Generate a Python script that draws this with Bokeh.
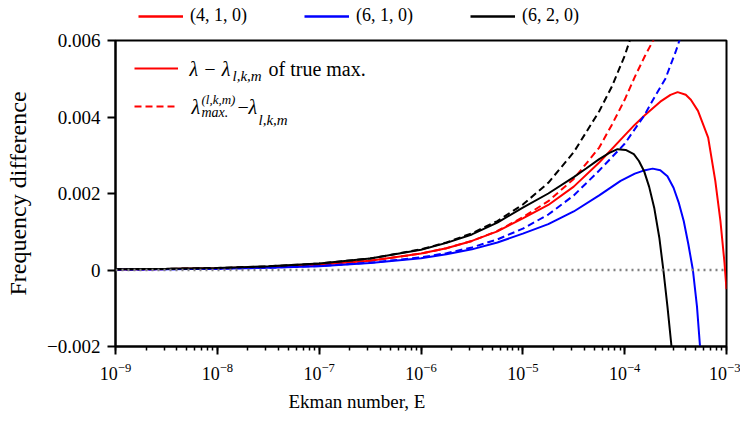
from bokeh.plotting import figure
from bokeh.layouts import column
from bokeh.models import (Legend, LegendItem, Label, Span, FixedTicker, Range1d, Title)
from bokeh.embed import file_html
from bokeh.resources import INLINE
from bokeh.core.properties import value

# ---- data: log10(Ekman number) and frequency difference ----
lg_410 = [-9, -8.5, -8, -7.5, -7, -6.5, -6, -5.75, -5.5, -5.25, -5, -4.75, -4.5, -4.25, -4.0,
          -3.9, -3.8, -3.65, -3.55, -3.48, -3.4, -3.35, -3.28, -3.18, -3.11, -3.06, -3.02, -3.0]
true_410 = [0.000014, 0.000024, 0.000043, 0.000077, 0.000137, 0.00024, 0.00043, 0.00057,
            0.00076, 0.00101, 0.00135, 0.00170, 0.00218, 0.00281, 0.00352, 0.00380,
            0.00405, 0.00440, 0.00458, 0.00465, 0.00458, 0.00445, 0.00416, 0.00346,
            0.00233, 0.00129, 0.0002, -0.0005]

lg_410d = [-9, -8.5, -8, -7.5, -7, -6.5, -6, -5.75, -5.5, -5.25, -5, -4.75, -4.5, -4.25,
           -4.125, -4.0, -3.9, -3.8, -3.7, -3.65]
asym_410 = [0.0000136, 0.000024, 0.000043, 0.000076, 0.000136, 0.00024, 0.00043, 0.00057,
            0.00076, 0.00102, 0.00138, 0.0018, 0.00238, 0.0032, 0.0038, 0.00445, 0.00505,
            0.0056, 0.0061, 0.0064]

lg_610 = [-9, -8.5, -8, -7.5, -7, -6.5, -6, -5.75, -5.5, -5.25, -5, -4.75, -4.5, -4.25,
          -4.04, -3.9, -3.8, -3.725, -3.65, -3.58, -3.52, -3.47, -3.42, -3.375, -3.33,
          -3.29, -3.26, -3.24]
true_610 = [0.000010, 0.000018, 0.000032, 0.000057, 0.000100, 0.00018, 0.00031, 0.00041,
            0.00054, 0.00072, 0.00095, 0.00120, 0.00153, 0.00195, 0.00233, 0.00252,
            0.00261, 0.00265, 0.00261, 0.00245, 0.00215, 0.00177, 0.00128, 0.00068, 0.0,
            -0.00095, -0.0020, -0.0027]

lg_610d = [-9, -8.5, -8, -7.5, -7, -6.5, -6, -5.75, -5.5, -5.25, -5, -4.75, -4.5, -4.25,
           -4.0, -3.81, -3.7, -3.6, -3.5, -3.45, -3.4]
asym_610 = [0.0000105, 0.000019, 0.000033, 0.000059, 0.000105, 0.00019, 0.00033, 0.00044,
            0.00059, 0.00080, 0.00108, 0.00145, 0.00195, 0.0026, 0.0033, 0.00403, 0.00455,
            0.0050, 0.0057, 0.0061, 0.0065]

lg_620 = [-9, -8.5, -8, -7.5, -7, -6.5, -6, -5.75, -5.5, -5.25, -5, -4.75, -4.5, -4.375,
          -4.25, -4.15, -4.07, -3.99, -3.91, -3.86, -3.81, -3.76, -3.71, -3.66, -3.62,
          -3.58, -3.54, -3.52]
true_620 = [0.000017, 0.00003, 0.000054, 0.000095, 0.00017, 0.00030, 0.00053, 0.00071,
            0.00093, 0.00124, 0.00163, 0.00200, 0.00243, 0.00266, 0.00290, 0.00306,
            0.00316, 0.00314, 0.00303, 0.00285, 0.00259, 0.00218, 0.00163, 0.00085, 0.0,
            -0.00095, -0.0020, -0.0026]

lg_620d = [-9, -8.5, -8, -7.5, -7, -6.5, -6, -5.75, -5.5, -5.25, -5, -4.75, -4.5, -4.25,
           -4.125, -4.0, -3.9]
asym_620 = [0.000017, 0.00003, 0.000054, 0.000096, 0.00017, 0.00030, 0.00054, 0.00072,
            0.00096, 0.00128, 0.00171, 0.00228, 0.00308, 0.00415, 0.0048, 0.00560, 0.0064]

mode_labels = ["(4, 1, 0)", "(6, 1, 0)", "(6, 2, 0)"]
mode_colors = ["#ff0000", "#0000ff", "#000000"]
y_ticks = [-0.002, 0.0, 0.002, 0.004, 0.006]
y_tick_labels = ["\u22120.002", "0", "0.002", "0.004", "0.006"]

SERIF = "Liberation Serif"
TOP_H = 26

def E(lg):
    return [10.0 ** v for v in lg]

# ---------- strip above the plot holding the mode legend ----------
pt = figure(width=740, height=TOP_H, x_range=Range1d(0, 1), y_range=Range1d(0, 1),
            x_axis_location=None, y_axis_location=None,
            output_backend="svg", toolbar_location=None, min_border=0)
pt.xgrid.visible = False
pt.ygrid.visible = False
pt.outline_line_color = None
# legend proxies (no visible data)
proxies = [pt.line(x=[float("nan")], y=[float("nan")], line_color=c, line_width=2.5)
           for c in mode_colors]
top_leg = Legend(items=[LegendItem(label=lab_, renderers=[r]) for lab_, r in zip(mode_labels, proxies)],
                 orientation="horizontal", location=(23, 0),
                 glyph_width=45, glyph_height=20, label_standoff=7, spacing=57,
                 padding=0, margin=0, border_line_alpha=0, background_fill_alpha=0,
                 label_text_font=SERIF, label_text_font_size="18px",
                 label_text_color="black")
pt.add_layout(top_leg, "center")

# ---------- main plot ----------
p = figure(width=740, height=420 - TOP_H, x_axis_type="log",
           x_range=Range1d(1e-9, 1e-3), y_range=Range1d(-0.002, 0.006),
           output_backend="svg", toolbar_location=None,
           min_border_left=115, min_border_right=14, min_border_top=40 - TOP_H,
           min_border_bottom=74)

p.xgrid.visible = False
p.ygrid.visible = False
p.outline_line_color = "black"
p.outline_line_width = 2

# zero reference line
p.add_layout(Span(location=0, dimension="width", line_color="#808080",
                  line_dash="2 4", line_width=2.5))

W = 2
r_red = p.line(E(lg_410), true_410, line_color=mode_colors[0], line_width=W)
r_red_d = p.line(E(lg_410d), asym_410, line_color=mode_colors[0], line_width=W, line_dash="7 4")
r_blue = p.line(E(lg_610), true_610, line_color=mode_colors[1], line_width=W)
r_blue_d = p.line(E(lg_610d), asym_610, line_color=mode_colors[1], line_width=W, line_dash="7 4")
r_blk = p.line(E(lg_620), true_620, line_color=mode_colors[2], line_width=W)
r_blk_d = p.line(E(lg_620d), asym_620, line_color=mode_colors[2], line_width=W, line_dash="7 4")

# axes
for ax in (p.xaxis[0], p.yaxis[0]):
    ax.axis_line_width = 2
    ax.major_tick_line_width = 2
    ax.major_tick_in = 0
    ax.major_tick_out = 8
    ax.minor_tick_in = 0
    ax.minor_tick_out = 4
    ax.minor_tick_line_width = 1.5
    ax.major_label_text_font = SERIF
    ax.axis_label_text_font = SERIF
    ax.axis_label_text_font_style = "normal"
    ax.axis_label_text_color = "black"
    ax.major_label_text_color = "black"

p.yaxis.ticker = FixedTicker(ticks=y_ticks)
p.yaxis.major_label_overrides = {t: s for t, s in zip(y_ticks, y_tick_labels)}
p.yaxis.minor_tick_line_color = None
p.yaxis.major_label_text_font_size = "19px"
p.yaxis.major_label_standoff = 7
p.yaxis.axis_label = "Frequency difference"
p.yaxis.axis_label_text_font_size = "24px"
p.yaxis.axis_label_standoff = 13

p.xaxis.major_label_text_font_size = "18px"
p.xaxis.major_label_standoff = 8

# x axis title, placed left of centre like the reference
p.add_layout(Title(text="Ekman number, E", align="left", offset=173,
                   text_font=SERIF, text_font_size="19px", text_font_style="normal",
                   text_color="black", standoff=12), "below")

# inner legend (line styles)
in_leg = Legend(items=[LegendItem(label=value(" "), renderers=[r_red]),
                       LegendItem(label=value("  "), renderers=[r_red_d])],
                orientation="vertical", location=(19, 230),
                glyph_width=44, glyph_height=20, label_height=20, spacing=18,
                label_standoff=4, padding=0, margin=0, border_line_alpha=0,
                background_fill_alpha=0, label_text_font_size="10px")
p.add_layout(in_leg, "center")

def lab(x, y, text, size, style="normal"):
    p.add_layout(Label(x=x, y=y, x_units="screen", y_units="screen", text=text,
                       text_font=SERIF, text_font_size=size, text_font_style=style,
                       text_baseline="middle", text_align="left", text_color="black"))

# row 1: λ − λ_{l,k,m} of true max.
lab(74, 278, "\u03bb \u2212 \u03bb", "20px", "italic")
lab(117, 271, "l,k,m", "15px", "italic")
lab(153, 278, "of true max.", "20px")
# row 2: λ^{(l,k,m)}_{max.} − λ_{l,k,m}
lab(76, 240, "\u03bb", "20px", "italic")
lab(86, 247, "(l,k,m)", "13px", "italic")
lab(86, 234, "max.", "14px", "italic")
lab(122, 240, "\u2212", "20px")
lab(133, 240, "\u03bb", "20px", "italic")
lab(143, 227, "l,k,m", "15px", "italic")

layout = column(pt, p, spacing=0)
open("out.html", "w").write(file_html(layout, INLINE))
